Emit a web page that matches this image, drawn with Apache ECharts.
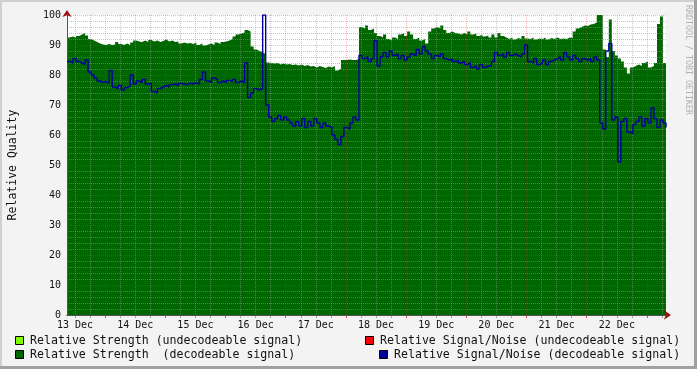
<!DOCTYPE html>
<html><head><meta charset="utf-8">
<script src="https://cdn.jsdelivr.net/npm/echarts@6/dist/echarts.min.js"></script>
<style>html,body{margin:0;padding:0;background:#f3f3f3}#c{width:697px;height:369px}</style>
</head><body><div id="c"></div>
<script>
// time axis in hours since 13 Dec 00:00; one sample every 1.2 h starting 08:48
const startHour = 8.8;
const stepHour = 1.2;
const dayLabels = ['13 Dec','14 Dec','15 Dec','16 Dec','17 Dec','18 Dec','19 Dec','20 Dec','21 Dec','22 Dec'];
const yTicks = [0,10,20,30,40,50,60,70,80,90,100];

// Relative Strength (decodeable signal)
const strength = [
92.5,92.8,92.3,93.0,93.5,94.0,93.2,92.0,91.5,91.0,
90.5,90.2,90.0,90.3,90.0,90.2,91.0,90.3,90.0,90.5,
90.0,90.8,91.5,91.2,91.0,91.5,91.0,91.7,91.2,91.5,
91.0,91.3,91.8,91.2,91.5,91.0,91.2,90.5,90.8,90.5,
90.7,90.3,90.8,90.0,90.5,89.8,90.2,90.5,90.0,90.8,
90.3,91.0,91.2,91.5,92.0,92.8,93.5,93.8,94.2,95.0,
94.5,89.5,88.5,88.0,87.5,87.0,84.2,84.0,83.8,84.0,
83.5,83.8,83.5,83.7,83.3,83.5,83.2,83.5,83.0,83.3,
82.8,83.0,82.5,83.0,82.7,82.3,82.8,82.5,83.0,81.5,
82.0,85.0,85.0,85.2,85.0,85.0,85.3,96.0,95.5,96.5,
95.0,95.5,94.0,93.0,92.5,93.5,92.0,91.5,92.5,92.0,
93.5,94.0,93.0,94.5,93.5,92.0,92.5,91.5,92.0,90.5,
94.5,95.5,96.0,95.5,96.5,95.0,94.0,94.5,94.0,93.8,
93.5,94.0,93.5,94.5,93.5,93.8,93.0,93.5,92.8,93.2,
92.5,93.5,92.5,94.0,93.0,92.5,92.0,92.5,91.8,92.3,
92.0,93.0,92.2,92.0,92.5,91.8,92.2,92.0,92.5,91.8,
92.3,92.0,92.5,92.0,92.2,92.0,92.5,92.3,94.5,95.5,
96.0,96.5,96.3,96.8,97.0,97.5,100,100,88.5,86.0,
98.5,88.0,86.5,85.5,84.5,82.5,80.5,82.5,83.0,83.5,
83.0,84.0,84.5,82.5,83.0,84.0,97.0,99.5,84.0,100
];

// Relative Signal/Noise (decodeable signal)
const snr = [
84.5,84.0,85.5,84.5,84.0,83.5,85.0,81.0,80.0,79.0,
78.0,77.5,77.8,77.3,81.5,76.0,75.5,76.5,75.0,75.8,
76.3,80.0,77.0,78.0,77.5,78.5,77.0,77.3,74.5,74.0,
75.5,76.0,76.5,76.0,76.8,77.0,76.5,77.2,77.0,76.8,
77.3,77.0,77.5,77.0,78.5,81.0,78.0,77.5,79.0,78.5,
77.5,78.0,77.5,78.2,77.8,78.5,77.5,78.0,77.5,84.0,
72.5,74.0,75.5,75.0,75.5,100,70.0,66.0,64.5,65.5,
66.5,65.0,66.0,65.0,64.0,63.0,64.5,63.0,65.5,62.5,
64.5,63.0,65.5,64.0,62.5,64.0,63.0,62.5,60.0,58.5,
56.8,59.5,62.5,62.0,64.0,66.0,65.0,86.5,85.5,86.0,
84.5,85.5,91.5,83.0,86.0,87.5,86.0,88.0,86.5,87.0,
85.5,86.5,85.0,86.0,87.0,86.5,88.5,87.0,89.5,88.0,
87.0,85.5,86.5,86.0,87.0,85.5,85.0,85.3,84.5,84.8,
84.0,84.5,83.5,84.0,82.5,83.0,82.0,83.5,82.5,83.0,
83.0,84.5,87.5,86.5,87.0,86.0,87.5,86.5,87.0,86.5,
86.0,87.0,90.0,84.5,84.0,85.5,83.5,84.0,85.0,83.5,
84.5,85.0,85.5,86.0,85.0,87.5,86.0,85.0,86.5,85.5,
84.5,85.5,85.0,85.5,84.5,86.0,85.0,64.0,62.0,88.0,
90.5,65.0,66.0,51.0,64.5,65.5,61.0,60.5,63.5,64.5,
66.0,63.0,65.5,64.0,69.0,65.5,62.5,65.0,64.0,62.5
];

const endHour = startHour + (strength.length - 1) * stepHour;
const midnightHours = [], minorHours = [], noonHours = [];
for (let h = 6; h < endHour; h += 6) {
  if (h < startHour) continue;
  if (h % 24 === 0) midnightHours.push(h); else minorHours.push(h);
}
dayLabels.forEach((d, k) => noonHours.push(12 + 24 * k));

const toPairs = arr => arr.map((v, i) => [startHour + i * stepHour, v]);
const mono = 'DejaVu Sans Mono';

const chart = echarts.init(document.getElementById('c'), null, {renderer: 'canvas'});
const xBase = {type: 'value', min: startHour, max: endHour, gridIndex: 0, position: 'bottom'};
chart.setOption({
  backgroundColor: '#f3f3f3',
  animation: false,
  grid: {left: 67, right: 31, top: 15, bottom: 54, show: true, backgroundColor: '#ffffff', borderWidth: 0,
    containLabel: false, outerBoundsMode: 'none'},
  xAxis: [
    Object.assign({}, xBase, {
      z: 5,
      axisLine: {show: false},
      axisTick: {show: true, customValues: minorHours, length: 3, inside: false, lineStyle: {color: 'rgba(140,140,140,0.8)'}},
      axisLabel: {show: false},
      splitLine: {show: true, lineStyle: {color: 'rgba(150,150,150,0.55)', width: 1, type: [1, 1]}}
    }),
    Object.assign({}, xBase, {
      z: 6,
      axisLine: {show: true, symbol: ['none', 'arrow'], symbolSize: [7, 7], symbolOffset: [0, 5], lineStyle: {color: '#a01010', width: 1}},
      axisTick: {show: true, customValues: midnightHours, length: 3, lineStyle: {color: 'rgba(220,40,40,0.8)'}},
      axisLabel: {show: true, customValues: noonHours, margin: 5, fontFamily: mono, fontSize: 10, color: '#111',
        formatter: v => dayLabels[Math.round((v - 12) / 24)]},
      splitLine: {show: true, lineStyle: {color: 'rgba(255,40,40,0.35)', width: 1, type: [1, 1]}}
    }),
    Object.assign({}, xBase, {
      z: 7,
      axisLine: {show: true, lineStyle: {color: '#555', width: 1}},
      axisTick: {show: false}, axisLabel: {show: false}, splitLine: {show: false}
    })
  ],
  yAxis: [
    {
      type: 'value', min: 0, max: 100, interval: 10, z: 6,
      axisLine: {show: true, symbol: ['none', 'arrow'], symbolSize: [7, 7], symbolOffset: [0, 5], lineStyle: {color: '#a01010', width: 1}},
      axisTick: {show: false},
      axisLabel: {show: true, margin: 6, fontFamily: mono, fontSize: 10, color: '#111',
        formatter: v => yTicks.indexOf(v) >= 0 ? String(v) : ''},
      splitLine: {show: true, lineStyle: {color: 'rgba(255,40,40,0.35)', width: 1, type: [1, 1]}},
      minorTick: {show: false, splitNumber: 5},
      minorSplitLine: {show: true, lineStyle: {color: 'rgba(150,150,150,0.55)', width: 1, type: [1, 1]}}
    },
    {
      type: 'value', min: 0, max: 100, interval: 10, z: 7, position: 'left',
      axisLine: {show: true, onZero: false, lineStyle: {color: '#555', width: 1}},
      axisTick: {show: false}, axisLabel: {show: false}, splitLine: {show: false},
      name: 'Relative Quality', nameLocation: 'middle', nameGap: 48, nameRotate: 90,
      nameTextStyle: {fontFamily: mono, fontSize: 11.5, color: '#111'}
    }
  ],
  series: [
    {
      name: 'Relative Strength  (decodeable signal)', type: 'line', xAxisIndex: 0, yAxisIndex: 0,
      step: 'end', showSymbol: false, symbol: 'none', z: 2,
      lineStyle: {width: 0, color: '#006600'},
      areaStyle: {color: '#006600', opacity: 1},
      data: toPairs(strength)
    },
    {
      name: 'Relative Signal/Noise (decodeable signal)', type: 'line', xAxisIndex: 0, yAxisIndex: 0,
      step: 'end', showSymbol: false, symbol: 'none', z: 10,
      lineStyle: {width: 1.4, color: '#00009c'},
      data: toPairs(snr)
    }
  ],
  graphic: [
    {type: 'rect', shape: {x: 0, y: 0, width: 697, height: 2}, style: {fill: '#d0d0d0'}, silent: true},
    {type: 'rect', shape: {x: 0, y: 0, width: 2, height: 369}, style: {fill: '#d0d0d0'}, silent: true},
    {type: 'rect', shape: {x: 0, y: 366, width: 697, height: 3}, style: {fill: '#a0a0a0'}, silent: true},
    {type: 'rect', shape: {x: 694, y: 0, width: 3, height: 369}, style: {fill: '#a0a0a0'}, silent: true},
    {type: 'text', x: 688, y: 5, rotation: -Math.PI / 2,
      style: {text: 'RRDTOOL / TOBI OETIKER', fill: '#b0b0b0', font: '8.3px "DejaVu Sans Mono"', textAlign: 'left', textVerticalAlign: 'middle'}},
    {type: 'rect', shape: {x: 15.5, y: 336.5, width: 8, height: 8}, style: {fill: '#80ff00', stroke: '#000', lineWidth: 1}},
    {type: 'text', x: 30, y: 341, style: {text: 'Relative Strength (undecodeable signal)', fill: '#111', font: '11.6px "DejaVu Sans Mono"', textVerticalAlign: 'middle'}},
    {type: 'rect', shape: {x: 15.5, y: 350.5, width: 8, height: 8}, style: {fill: '#006600', stroke: '#000', lineWidth: 1}},
    {type: 'text', x: 30, y: 355, style: {text: 'Relative Strength  (decodeable signal)', fill: '#111', font: '11.6px "DejaVu Sans Mono"', textVerticalAlign: 'middle'}},
    {type: 'rect', shape: {x: 365.5, y: 336.5, width: 8, height: 8}, style: {fill: '#ff0000', stroke: '#000', lineWidth: 1}},
    {type: 'text', x: 380, y: 341, style: {text: 'Relative Signal/Noise (undecodeable signal)', fill: '#111', font: '11.6px "DejaVu Sans Mono"', textVerticalAlign: 'middle'}},
    {type: 'rect', shape: {x: 379.5, y: 350.5, width: 8, height: 8}, style: {fill: '#00009c', stroke: '#000', lineWidth: 1}},
    {type: 'text', x: 394, y: 355, style: {text: 'Relative Signal/Noise (decodeable signal)', fill: '#111', font: '11.6px "DejaVu Sans Mono"', textVerticalAlign: 'middle'}}
  ]
});
</script></body></html>
